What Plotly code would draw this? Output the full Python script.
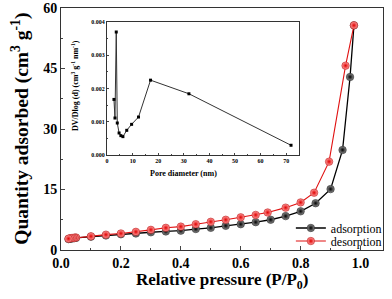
import plotly.graph_objects as go

# Main isotherm data
ads_x = [0.025, 0.03, 0.035, 0.04, 0.045, 0.05, 0.10, 0.15, 0.20, 0.25, 0.30, 0.35, 0.40,
         0.45, 0.50, 0.55, 0.60, 0.65, 0.70, 0.75, 0.80, 0.85, 0.90, 0.94, 0.965, 0.978]
ads_y = [2.7, 2.8, 2.85, 2.9, 2.95, 3.0, 3.3, 3.6, 3.9, 4.1, 4.4, 4.6, 4.8,
         5.2, 5.5, 6.0, 6.4, 6.9, 7.5, 8.4, 9.6, 11.6, 15.1, 24.8, 42.9, 55.7]
des_x = [0.978, 0.95, 0.895, 0.845, 0.80, 0.75, 0.69, 0.65, 0.60, 0.55, 0.50, 0.45, 0.40,
         0.35, 0.30, 0.25, 0.20, 0.15, 0.10, 0.05, 0.045, 0.04, 0.035, 0.03, 0.025]
des_y = [55.7, 45.7, 21.9, 14.2, 11.8, 10.5, 9.3, 8.7, 8.1, 7.5, 7.0, 6.4, 5.8,
         5.5, 5.0, 4.5, 4.1, 3.8, 3.4, 3.1, 3.05, 3.0, 2.95, 2.9, 2.8]

# Inset pore size distribution
pd_x = [2.7, 3.1, 3.6, 4.0, 4.7, 5.4, 6.2, 7.7, 9.6, 12.3, 17.0, 32.0, 71.9]
pd_y = [0.00167, 0.00111, 0.00370, 0.00096, 0.00066, 0.00058, 0.00055, 0.00074,
        0.00092, 0.00114, 0.00225, 0.00184, 0.00029]

main_ticks = [0.0, 0.2, 0.4, 0.6, 0.8, 1.0]
main_yticks = [0, 15, 30, 45, 60]
inset_xticks = [0, 10, 20, 30, 40, 50, 60, 70]
inset_yticks = [0.000, 0.001, 0.002, 0.003, 0.004]

SERIF = "Liberation Serif"

fig = go.Figure()
fig.add_trace(go.Scatter(
    x=ads_x, y=ads_y, mode="lines+markers", name="adsorption", legend="legend",
    line=dict(color="black", width=1.3),
    marker=dict(size=7.5, color="#909090", gradient=dict(type="radial", color="#000000"),
                line=dict(color="#111111", width=0.5)),
    xaxis="x", yaxis="y"))
fig.add_trace(go.Scatter(
    x=des_x, y=des_y, mode="lines+markers", name="desorption", legend="legend2",
    line=dict(color="#e01010", width=1.1),
    marker=dict(size=7.5, color="#ffa0a0", gradient=dict(type="radial", color="#e00000"),
                line=dict(color="#b00000", width=0.5)),
    xaxis="x", yaxis="y"))
fig.add_trace(go.Scatter(
    x=pd_x, y=pd_y, mode="lines+markers", showlegend=False,
    line=dict(color="#333333", width=1),
    marker=dict(size=3, color="black", symbol="square"),
    xaxis="x2", yaxis="y2"))

axis_common = dict(showline=True, linecolor="#333333", linewidth=1, mirror=True,
                   ticks="inside", showgrid=False, zeroline=False, automargin=False)

leg_common = dict(x=1.012, xanchor="right", yanchor="middle", bgcolor="rgba(0,0,0,0)",
                  font=dict(size=12, family=SERIF), itemwidth=30,
                  borderwidth=0)

fig.update_layout(
    width=392, height=299,
    margin=dict(l=61, r=9, t=8, b=49, autoexpand=False),
    paper_bgcolor="white", plot_bgcolor="white",
    font=dict(family=SERIF, color="black"),
    xaxis=dict(range=[0, 1.075], tickvals=main_ticks, ticktext=[f"<b>{v:.1f}</b>" for v in main_ticks],
               tickfont=dict(size=14, family=SERIF), ticklen=4,
               minor=dict(ticks="inside", dtick=0.1, ticklen=2, tick0=0),
               **axis_common),
    yaxis=dict(range=[0, 60], tickvals=main_yticks, ticktext=[f"<b>{v}</b>" for v in main_yticks],
               tickfont=dict(size=14, family=SERIF), ticklen=4,
               minor=dict(ticks="inside", dtick=7.5, ticklen=2, tick0=0),
               **axis_common),
    xaxis2=dict(domain=[0.143, 0.739], anchor="y2", range=[0, 75], tickvals=inset_xticks,
                ticktext=[f"<b>{v}</b>" for v in inset_xticks],
                tickfont=dict(size=6, family=SERIF), ticklen=2,
                minor=dict(ticks="inside", dtick=5, ticklen=1, tick0=0),
                **axis_common),
    yaxis2=dict(domain=[0.393, 0.942], anchor="x2", range=[0, 0.004], tickvals=inset_yticks,
                ticktext=[f"<b>{v:.3f}</b>" for v in inset_yticks],
                tickfont=dict(size=6, family=SERIF), ticklen=2,
                minor=dict(ticks="inside", dtick=0.0005, ticklen=1, tick0=0),
                **axis_common),
    legend=dict(y=0.091, **leg_common),
    legend2=dict(y=0.037, **leg_common),
    showlegend=True,
)

fig.add_annotation(text="<b>Relative pressure (P/P<sub>0</sub>)</b>", xref="paper", yref="paper",
                   x=0.5, y=-0.13, xanchor="center", yanchor="middle", showarrow=False,
                   font=dict(size=17, family=SERIF))
fig.add_annotation(text="<b>Quantity adsorbed (cm<sup>3</sup> g<sup>-1</sup>)</b>", xref="paper", yref="paper",
                   x=-0.128, y=0.5, xanchor="center", yanchor="middle", textangle=-90, showarrow=False,
                   font=dict(size=19.5, family=SERIF))
fig.add_annotation(text="<b>Pore diameter (nm)</b>", xref="paper", yref="paper",
                   x=0.38, y=0.315, xanchor="center", yanchor="middle", showarrow=False,
                   font=dict(size=8, family=SERIF))
fig.add_annotation(text="<b>DV/Dlog (d) (cm<sup>3</sup> g<sup>-1</sup> nm<sup>-1</sup>)</b>", xref="paper", yref="paper",
                   x=0.045, y=0.68, xanchor="center", yanchor="middle", textangle=-90, showarrow=False,
                   font=dict(size=8, family=SERIF))

fig.write_html("out.html", config={"displayModeBar": False},
               post_script="document.body.style.margin='0';")
